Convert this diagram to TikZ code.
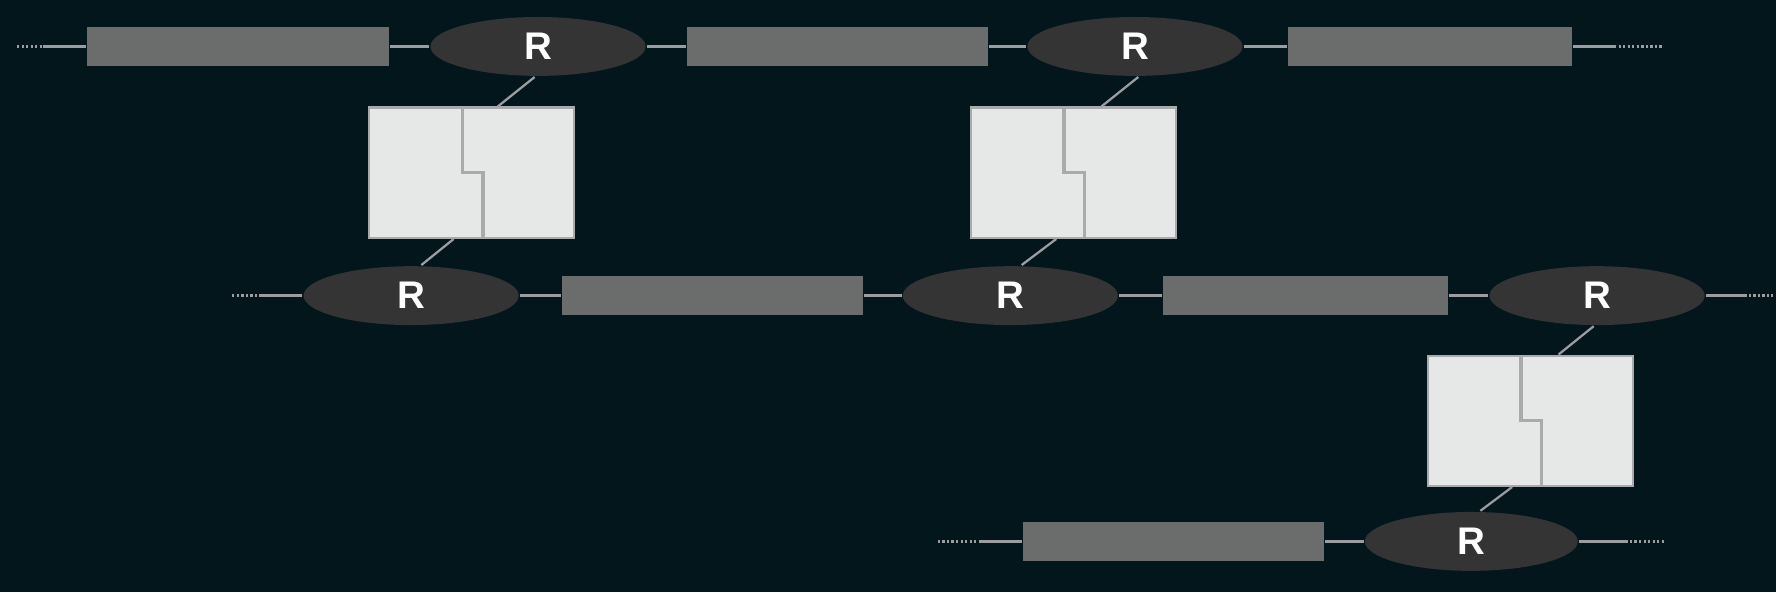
\documentclass[tikz,border=0pt]{standalone}
\usepackage{fontspec}
\setsansfont{Liberation Sans}
\usetikzlibrary{shapes.geometric,positioning}
\definecolor{bg_dark}{RGB}{2,22,28}
\definecolor{ring_gray}{RGB}{52,52,52}
\definecolor{seg_gray}{RGB}{107,108,108}
\definecolor{wire_gray}{RGB}{155,158,160}
\definecolor{box_light}{RGB}{230,231,231}
\definecolor{box_edge}{RGB}{168,170,172}

\begin{document}
\begin{tikzpicture}[x=1pt,y=-1pt,line width=2pt]
    \tikzstyle{ring}=[ellipse, fill=ring_gray, minimum width=190pt, minimum height=52pt, inner sep=0pt,
                      text=white, font=\fontsize{34}{34}\sffamily\bfseries]
    \tikzstyle{seg}=[rectangle, fill=seg_gray, minimum width=266pt, minimum height=35pt, inner sep=0pt]
    \tikzstyle{blk}=[rectangle, fill=box_light, draw=box_edge, minimum width=181pt, minimum height=115pt, inner sep=0pt]
    \tikzstyle{wire}=[draw=wire_gray]
    \tikzstyle{dots}=[draw=wire_gray, dotted]

    \fill[bg_dark] (0,0) rectangle (1568,523);
    \useasboundingbox (0,0) rectangle (1568,523);

    % top row
    \node[seg] (s1) at (210,41) {};
    \node[ring] (r1) at (475,41) {R};
    \node[seg] (s2) at (739.5,41) {};
    \node[ring] (r2) at (1002,41) {R};
    \node[seg, minimum width=251pt] (s3) at (1262.5,41) {};
    % middle row
    \node[ring] (r3) at (363,261) {R};
    \node[seg] (s4) at (629,261) {};
    \node[ring] (r4) at (892,261) {R};
    \node[seg, minimum width=251pt] (s5) at (1152.5,261) {};
    \node[ring] (r5) at (1410,261) {R};
    % bottom row
    \node[seg] (s6) at (1036,478) {};
    \node[ring, minimum width=188pt] (r6) at (1299,478) {R};

    % blocks
    \node[blk] (b1) at (416.5,152.5) {};
    \node[blk] (b2) at (947.5,152.5) {};
    \node[blk] (b3) at (1351,371.5) {};
    \foreach \b in {b1,b2,b3}
      \draw[box_edge, line width=3pt] ([xshift=-8pt]\b.north) -- ([xshift=-8pt]\b.center)
            -- ([xshift=10pt]\b.center) -- ([xshift=10pt]\b.south);

    % chain wires
    \coordinate (e1) at (38,41);
    \coordinate (e2) at (1425,41);
    \coordinate (e3) at (230,261);
    \coordinate (e4) at (1540,261);
    \coordinate (e5) at (865,478);
    \coordinate (e6) at (1435,478);
    \draw[dots] (15,41) -- (e1);
    \draw[dots] (e2) -- (1467,41);
    \draw[dots] (205,261) -- (e3);
    \draw[dots] (e4) -- (1565,261);
    \draw[dots] (828,478) -- (e5);
    \draw[dots] (e6) -- (1470,478);
    \path[wire] (e1) -- (s1.west) (s1) -- (r1) (r1) -- (s2) (s2) -- (r2) (r2) -- (s3) (s3.east) -- (e2)
                (e3) -- (r3.west) (r3) -- (s4) (s4) -- (r4) (r4) -- (s5) (s5) -- (r5) (r5.east) -- (e4)
                (e5) -- (s6.west) (s6) -- (r6) (r6.east) -- (e6);

    % links to blocks
    \draw[wire] ([xshift=-3pt]r1.south) -- ([xshift=23pt]b1.north);
    \draw[wire] ([xshift=-16pt]b1.south) -- ([xshift=9pt]r3.north);
    \draw[wire] ([xshift=3pt]r2.south) -- ([xshift=25pt]b2.north);
    \draw[wire] ([xshift=-15pt]b2.south) -- ([xshift=10pt]r4.north);
    \draw[wire] ([xshift=-3pt]r5.south) -- ([xshift=25pt]b3.north);
    \draw[wire] ([xshift=-16pt]b3.south) -- ([xshift=8pt]r6.north);
\end{tikzpicture}
\end{document}
